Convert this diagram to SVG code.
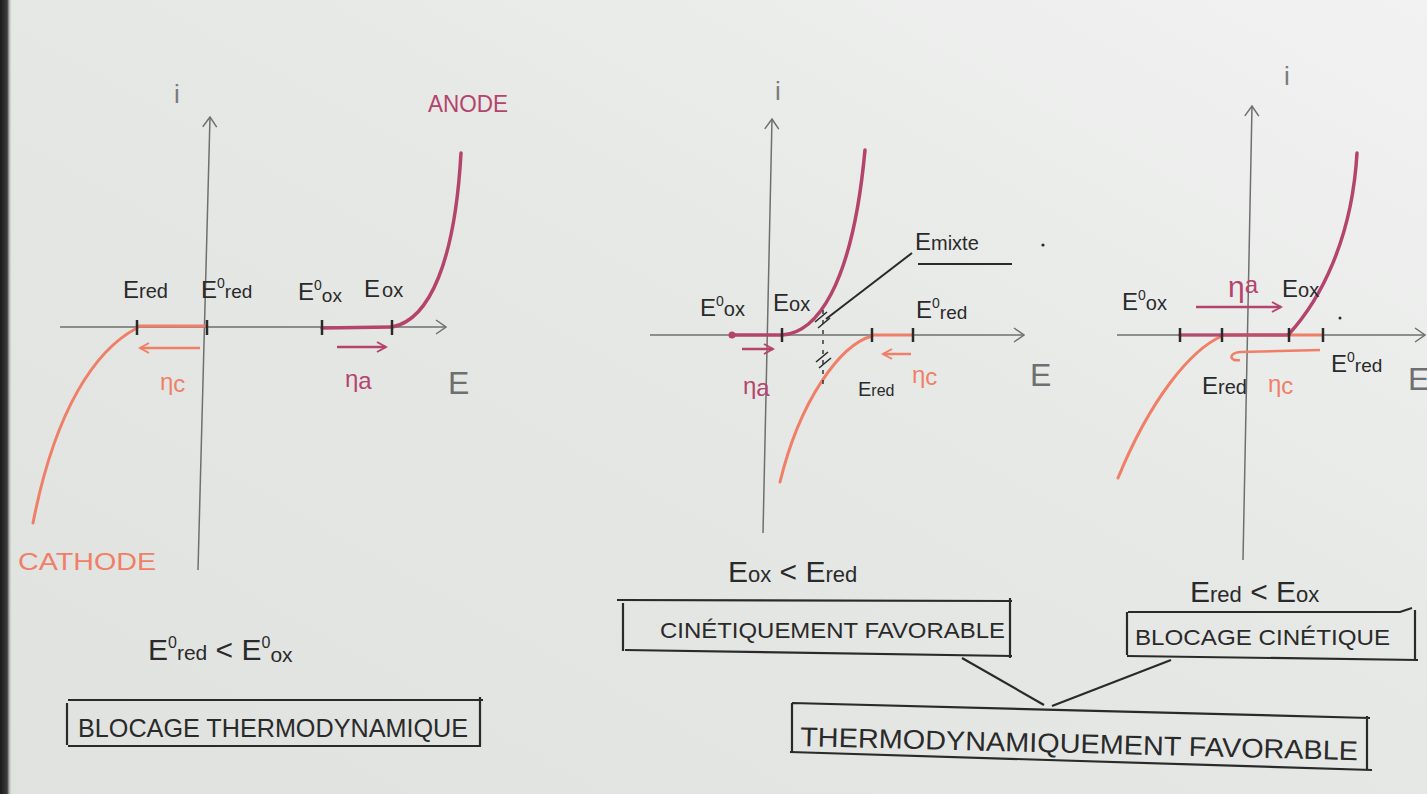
<svg xmlns="http://www.w3.org/2000/svg" width="1427" height="794" viewBox="0 0 1427 794">
<defs>
<linearGradient id="paper" x1="0" y1="1" x2="1" y2="0">
<stop offset="0" stop-color="#e0e2e0"/>
<stop offset="0.55" stop-color="#e6e8e6"/>
<stop offset="1" stop-color="#f1f2f1"/>
</linearGradient>
<linearGradient id="edge" x1="0" y1="0" x2="1" y2="0">
<stop offset="0" stop-color="#1a1a1a"/>
<stop offset="0.6" stop-color="#3a3b3a"/>
<stop offset="1" stop-color="#e0e2e0" stop-opacity="0"/>
</linearGradient>
<marker id="ax" viewBox="0 0 12 16" refX="11" refY="8" markerWidth="12" markerHeight="16" markerUnits="userSpaceOnUse" orient="auto">
<path d="M1,1 L11,8 L1,15" fill="none" stroke="#6e6f6e" stroke-width="1.5"/>
</marker>
<marker id="hm" viewBox="0 0 12 12" refX="10" refY="6" markerWidth="12" markerHeight="12" markerUnits="userSpaceOnUse" orient="auto">
<path d="M1,1 L10,6 L1,11" fill="none" stroke="#b4446c" stroke-width="2"/>
</marker>
<marker id="hs" viewBox="0 0 12 12" refX="10" refY="6" markerWidth="12" markerHeight="12" markerUnits="userSpaceOnUse" orient="auto">
<path d="M1,1 L10,6 L1,11" fill="none" stroke="#f07f68" stroke-width="2"/>
</marker>
</defs>
<style>
text{font-family:"Liberation Sans","DejaVu Sans",sans-serif;fill:#2a2a2a}
.ax{fill:none;stroke:#6e6f6e;stroke-width:1.5}
.tick{stroke:#2a2a2a;stroke-width:2.5}
.an{fill:none;stroke:#b4446c;stroke-width:3.5;stroke-linecap:round}
.ca{fill:none;stroke:#f07f68;stroke-width:3;stroke-linecap:round}
.am{fill:none;stroke:#b4446c;stroke-width:2.5}
.as{fill:none;stroke:#f07f68;stroke-width:2.5}
.lab{font-size:24px}
.big{font-size:30px}
.axl{font-size:32px;fill:#6e6f6e}
.il{font-size:26px;fill:#7a7b7a}
.mg{fill:#b4446c}
.sl{fill:#f07f68}
.box{fill:none;stroke:#2a2a2a;stroke-width:2.2}
.btx{font-size:25px}
.ink{fill:none;stroke:#2a2a2a;stroke-width:2.2}
</style>
<rect x="0" y="0" width="1427" height="794" fill="url(#paper)"/>
<rect x="0" y="0" width="12" height="794" fill="url(#edge)"/>

<!-- Panel 1 -->
<g id="panel1">
<path class="ax" d="M60,327 L446,327" marker-end="url(#ax)"/>
<path class="ax" d="M198,570 L210,117" marker-end="url(#ax)"/>
<text class="il" x="174" y="103">i</text>
<text class="axl" x="448" y="394">E</text>
<path class="ca" d="M137,326 L207,326"/>
<path class="ca" d="M137,328 C95,350 55,410 33,523"/>
<path class="an" d="M322,328 L392,327"/>
<path class="an" d="M392,327 C430,320 455,260 461,153"/>
<line class="tick" x1="137" y1="320" x2="137" y2="335"/>
<line class="tick" x1="207" y1="320" x2="207" y2="335"/>
<line class="tick" x1="322" y1="320" x2="322" y2="335"/>
<line class="tick" x1="392" y1="320" x2="392" y2="335"/>
<path class="as" d="M200,348 L140,348" marker-end="url(#hs)"/>
<path class="am" d="M337,347 L386,347" marker-end="url(#hm)"/>
<text class="lab sl" x="160" y="390">η<tspan dy="2">c</tspan></text>
<text class="lab mg" x="345" y="387">η<tspan dy="2">a</tspan></text>
<text class="lab mg" x="428" y="112" textLength="80" lengthAdjust="spacingAndGlyphs">ANODE</text>
<text class="lab sl" x="18" y="570" textLength="138" lengthAdjust="spacingAndGlyphs">CATHODE</text>
<text class="lab" x="123" y="298">E<tspan font-size="20">red</tspan></text>
<text class="lab" x="201" y="298">E<tspan font-size="14" dy="-10">0</tspan><tspan font-size="19" dy="10">red</tspan></text>
<text class="lab" x="298" y="300">E<tspan font-size="14" dy="-10">0</tspan><tspan font-size="19" dy="12">ox</tspan></text>
<text class="lab" x="364" y="297">E<tspan font-size="20" dx="2">ox</tspan></text>
<text class="big" x="148" y="660">E<tspan font-size="16" dy="-12">0</tspan><tspan font-size="21" dy="12">red</tspan> &lt; E<tspan font-size="16" dy="-12">0</tspan><tspan font-size="21" dy="14">ox</tspan></text>
</g>

<!-- Panel 2 -->
<g id="panel2">
<path class="ax" d="M650,335 L1024,335" marker-end="url(#ax)"/>
<path class="ax" d="M763,533 L772,119" marker-end="url(#ax)"/>
<text class="il" x="775" y="100">i</text>
<text class="axl" x="1030" y="386">E</text>
<path class="an" d="M732,335 L782,335"/>
<path class="an" d="M782,335 C815,333 852,290 865,150"/>
<circle cx="732" cy="335" r="3.5" fill="#b4446c"/>
<path class="ca" d="M913,335 L872,335"/>
<path class="ca" d="M872,336 C840,345 800,400 780,482"/>
<line class="tick" x1="782" y1="328" x2="782" y2="342"/>
<line class="tick" x1="872" y1="328" x2="872" y2="342"/>
<line class="tick" x1="913" y1="328" x2="913" y2="342"/>
<path d="M823,310 L823,390" fill="none" stroke="#2a2a2a" stroke-width="1.4" stroke-dasharray="4,6"/>
<path d="M815,322 L827,312 M818,328 L830,318" fill="none" stroke="#2a2a2a" stroke-width="1.6"/>
<path d="M816,362 L828,352 M819,368 L831,358" fill="none" stroke="#2a2a2a" stroke-width="1.6"/>
<path d="M826,319 L912,253" fill="none" stroke="#2a2a2a" stroke-width="2"/>
<text class="lab" x="915" y="250">E<tspan font-size="20">mixte</tspan></text>
<line x1="918" y1="264" x2="1012" y2="264" stroke="#2a2a2a" stroke-width="2.2"/>
<circle cx="1043" cy="245" r="1.6" fill="#2a2a2a"/>
<path class="am" d="M742,349 L773,349" marker-end="url(#hm)"/>
<path class="as" d="M911,354 L883,354" marker-end="url(#hs)"/>
<text class="lab mg" x="743" y="394">η<tspan dy="2">a</tspan></text>
<text class="lab sl" x="912" y="383">η<tspan dy="2">c</tspan></text>
<text class="lab" x="700" y="316">E<tspan font-size="14" dy="-10">0</tspan><tspan font-size="20" dy="10">ox</tspan></text>
<text class="lab" x="773" y="311">E<tspan font-size="20">ox</tspan></text>
<text class="lab" x="916" y="318">E<tspan font-size="14" dy="-10">0</tspan><tspan font-size="19" dy="11">red</tspan></text>
<text font-size="20" x="858" y="396">E<tspan font-size="16">red</tspan></text>
<text class="big" x="728" y="582">E<tspan font-size="22">ox</tspan> &lt; E<tspan font-size="22">red</tspan></text>
</g>

<!-- Panel 3 -->
<g id="panel3">
<path class="ax" d="M1117,335 L1425,335" marker-end="url(#ax)"/>
<path class="ax" d="M1243,560 L1252,106" marker-end="url(#ax)"/>
<text class="il" x="1284" y="85">i</text>
<text class="axl" x="1408" y="390">E</text>
<path class="ca" d="M1222,335 L1323,335"/>
<path class="ca" d="M1222,336 C1190,350 1150,400 1118,478"/>
<path class="an" d="M1180,335 L1289,335" stroke-opacity="0.85"/>
<path class="an" d="M1289,334 C1320,300 1352,240 1357,153"/>
<line class="tick" x1="1180" y1="328" x2="1180" y2="342"/>
<line class="tick" x1="1222" y1="328" x2="1222" y2="342"/>
<line class="tick" x1="1289" y1="328" x2="1289" y2="342"/>
<line class="tick" x1="1323" y1="328" x2="1323" y2="342"/>
<circle cx="1340" cy="318" r="1.5" fill="#2a2a2a"/>
<path class="am" d="M1196,307 L1281,307" marker-end="url(#hm)"/>
<path class="as" d="M1320,350 L1240,352 C1228,353 1229,362 1240,360"/>
<text class="big mg" x="1228" y="297">η<tspan font-size="24" dy="-4">a</tspan></text>
<text class="lab sl" x="1268" y="392">η<tspan dy="2">c</tspan></text>
<text class="lab" x="1122" y="310">E<tspan font-size="14" dy="-10">0</tspan><tspan font-size="20" dy="10">ox</tspan></text>
<text class="lab" x="1282" y="297">E<tspan font-size="20">ox</tspan></text>
<text class="lab" x="1331" y="372">E<tspan font-size="14" dy="-10">0</tspan><tspan font-size="19" dy="10">red</tspan></text>
<text class="lab" x="1202" y="394">E<tspan font-size="20">red</tspan></text>
<text class="big" x="1190" y="602">E<tspan font-size="22">red</tspan> &lt; E<tspan font-size="22">ox</tspan></text>
</g>

<!-- Boxes -->
<g id="box-blocage-thermo">
<path class="box" d="M68,700 L483,700 M68,746 L481,746 M67,703 L67,745 M480,697 L480,746"/>
<text class="btx" x="78" y="737" textLength="390" lengthAdjust="spacingAndGlyphs">BLOCAGE THERMODYNAMIQUE</text>
</g>
<g id="box-cinetiquement">
<path class="box" d="M617,600 L1012,601 M625,650 L1012,656 M623,603 L623,651 M1010,598 L1010,658"/>
<text font-size="22" x="660" y="638" textLength="345" lengthAdjust="spacingAndGlyphs">CINÉTIQUEMENT FAVORABLE</text>
</g>
<g id="box-blocage-cinetique">
<path class="box" d="M1128,612 L1400,612 L1412,608 M1127,656 L1418,660 M1127,612 L1127,655 M1415,610 L1415,660"/>
<text font-size="22" x="1135" y="645" textLength="255" lengthAdjust="spacingAndGlyphs">BLOCAGE CINÉTIQUE</text>
</g>
<g id="box-thermo-favorable">
<path class="box" d="M792,703 L1370,718 M790,752 L1372,770 M792,703 L792,752 M1367,716 L1367,770"/>
<text font-size="27" x="800" y="746" textLength="558" lengthAdjust="spacingAndGlyphs" transform="rotate(1.45 800 746)">THERMODYNAMIQUEMENT FAVORABLE</text>
</g>

<g id="connectors">
<path class="ink" d="M962,658 L1044,705"/>
<path class="ink" d="M1171,660 L1052,706"/>
</g>
</svg>
